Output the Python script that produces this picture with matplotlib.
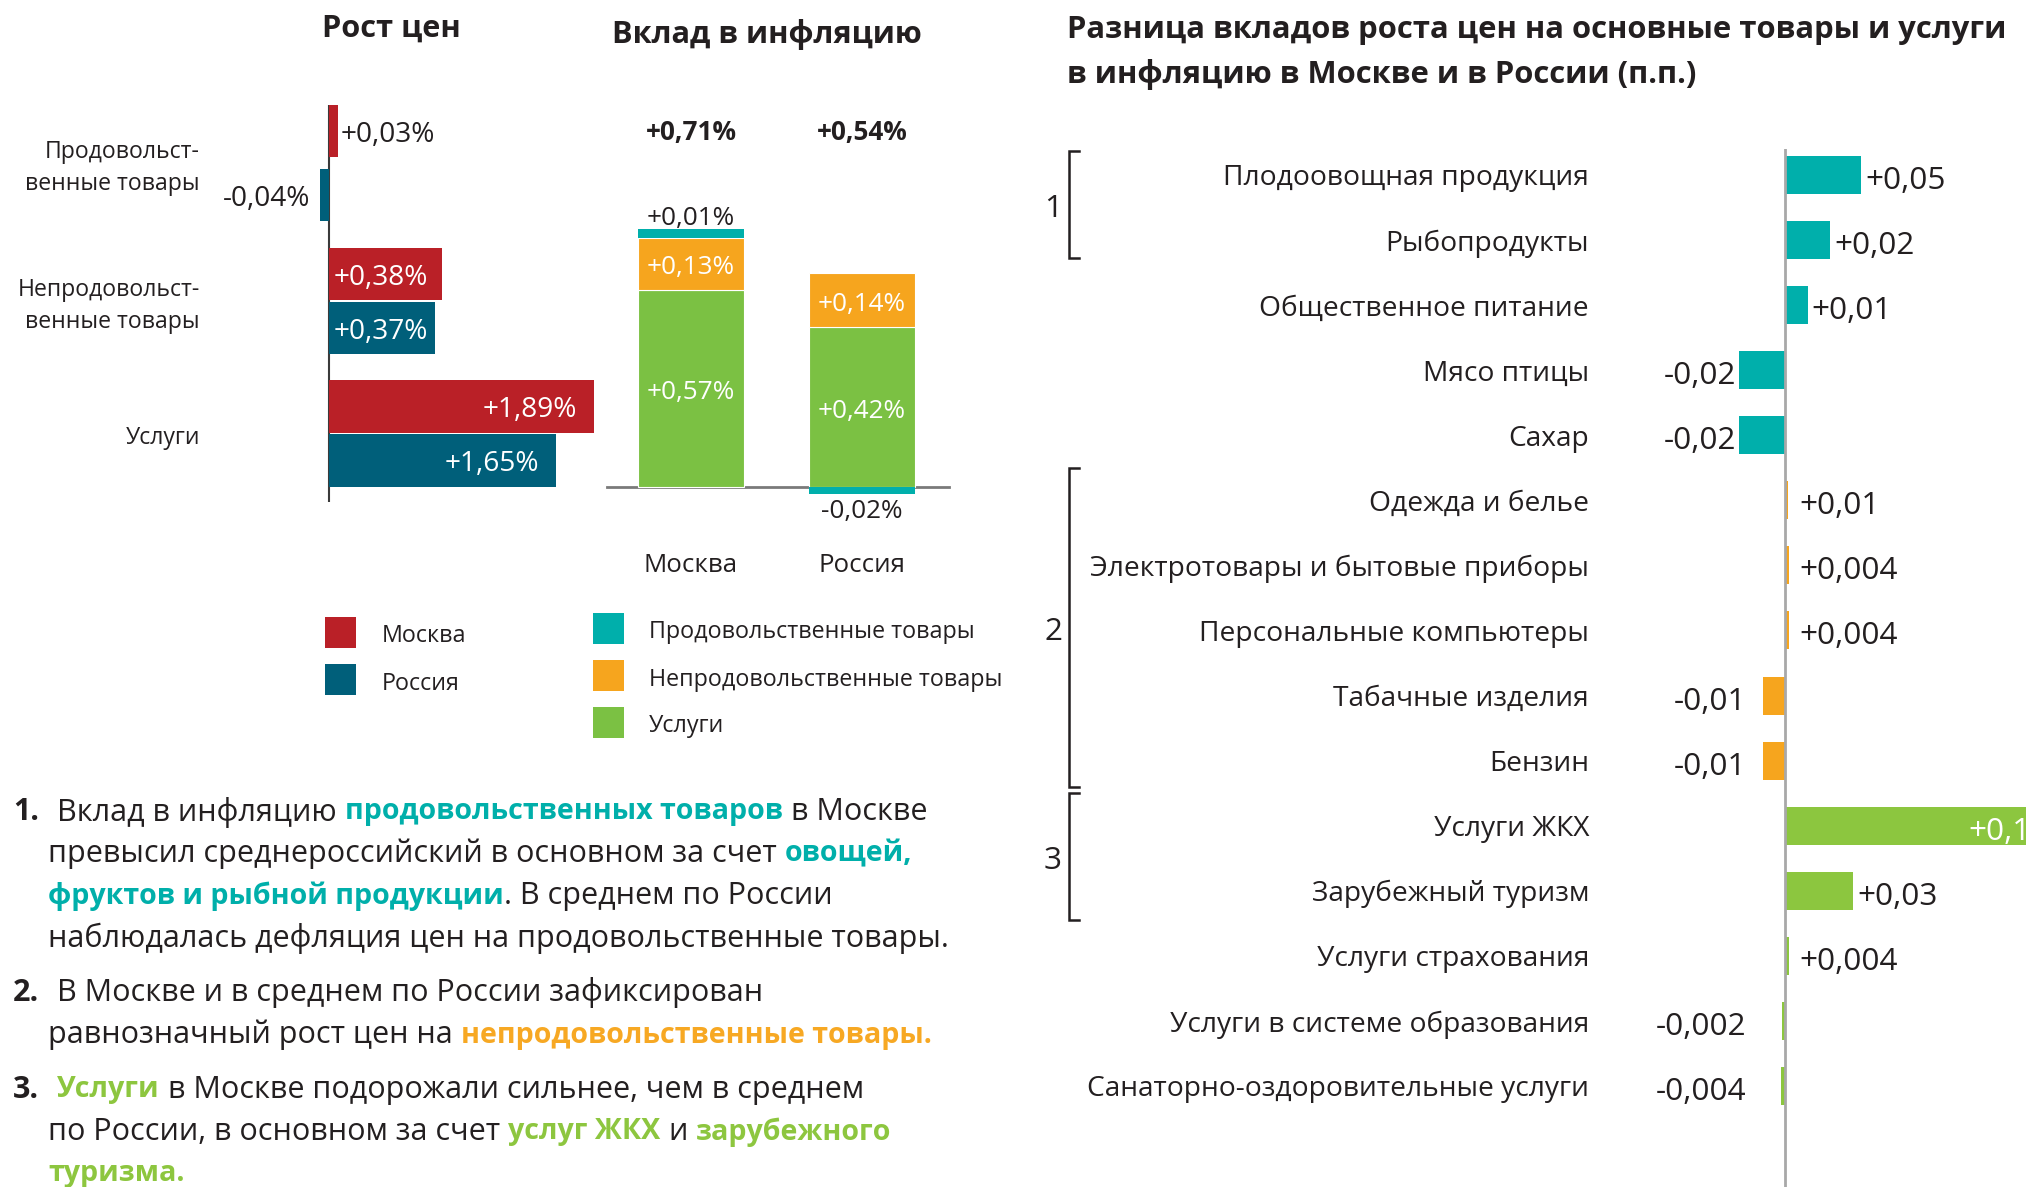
import re
import matplotlib
matplotlib.use('Agg')
import matplotlib.pyplot as plt
from matplotlib.patches import Rectangle
from matplotlib.transforms import ScaledTranslation

W, H, DPI = 2026, 1187, 100
plt.rcParams['font.family'] = ['Open Sans', 'DejaVu Sans']
DARK = '#231F20'
plt.rcParams['text.color'] = DARK

# ---------------- data ----------------
growth_categories = ['Продовольст-\nвенные товары', 'Непродовольст-\nвенные товары', 'Услуги']
growth_moscow = [0.064, 0.81, 1.89]          # bar lengths as drawn in the picture
growth_russia = [-0.064, 0.76, 1.62]
growth_moscow_labels = ['+0,03%', '+0,38%', '+1,89%']
growth_russia_labels = ['-0,04%', '+0,37%', '+1,65%']

contrib_regions = ['Москва', 'Россия']
contrib_services = [0.57, 0.462]
contrib_nonfood = [0.15, 0.156]
contrib_food = [0.026, -0.02]
contrib_services_labels = ['+0,57%', '+0,42%']
contrib_nonfood_labels = ['+0,13%', '+0,14%']
contrib_food_labels = ['+0,01%', '-0,02%']
contrib_totals = ['+0,71%', '+0,54%']

diff_items = ['Плодоовощная продукция', 'Рыбопродукты', 'Общественное питание', 'Мясо птицы', 'Сахар',
              'Одежда и белье', 'Электротовары и бытовые приборы', 'Персональные компьютеры',
              'Табачные изделия', 'Бензин', 'Услуги ЖКХ', 'Зарубежный туризм', 'Услуги страхования',
              'Услуги в системе образования', 'Санаторно-оздоровительные услуги']
diff_values = [0.050, 0.0296, 0.015, -0.030, -0.030, 0.002, 0.0025, 0.0025, -0.0145, -0.0145,
               0.187, 0.045, 0.0027, -0.002, -0.0027]
diff_labels = ['+0,05', '+0,02', '+0,01', '-0,02', '-0,02', '+0,01', '+0,004', '+0,004', '-0,01', '-0,01',
               '+0,12', '+0,03', '+0,004', '-0,002', '-0,004']
diff_sector = [0, 0, 0, 0, 0, 1, 1, 1, 1, 1, 2, 2, 2, 2, 2]
bracket_rows = [(0, 1), (5, 9), (10, 11)]
bracket_names = ['1', '2', '3']

legend_regions = ['Москва', 'Россия']
legend_sectors = ['Продовольственные товары', 'Непродовольственные товары', 'Услуги']

notes = [
    ('1.', ['Вклад в инфляцию {t:продовольственных товаров} в Москве',
            'превысил среднероссийский в основном за счет {t:овощей,}',
            '{t:фруктов и рыбной продукции}. В среднем по России',
            'наблюдалась дефляция цен на продовольственные товары.']),
    ('2.', ['В Москве и в среднем по России зафиксирован',
            'равнозначный рост цен на {o:непродовольственные товары.}']),
    ('3.', ['{g:Услуги} в Москве подорожали сильнее, чем в среднем',
            'по России, в основном за счет {g:услуг ЖКХ} и {g:зарубежного}',
            '{g:туризма.}']),
]

# ---------------- style / layout ----------------
RED = '#BA2027'
BLUE = '#005F7A'
TEAL = '#00AFAB'
ORANGE = '#F6A51E'
GREEN = '#7BC143'
GREEN2 = '#8CC63F'
sector_colors = [TEAL, ORANGE, GREEN2]
note_colors = {'t': '#00AFAA', 'o': '#F7A823', 'g': '#8DC63F'}
TS = 4  # text baseline shift (px)

growth_center_px = [163, 301, 433.5]
growth_half_gap_px = [32, 27, 27]
bracket_pads = [(0.37, 0.28), (0.49, 0.41), (0.5, 0.45)]

fig = plt.figure(figsize=(W / DPI, H / DPI), dpi=DPI)
R = fig.canvas.get_renderer()


def add_axes_px(x0, y0, x1, y1):
    ax = fig.add_axes([x0 / W, 1 - y1 / H, (x1 - x0) / W, (y1 - y0) / H])
    ax.axis('off')
    return ax


def ftext(x, y, s, **kw):
    return fig.text(x / W, 1 - (y + TS) / H, s, **kw)


def atext(ax, x, y, s, tr=None, sh=TS, **kw):
    base = ax.transData if tr is None else tr
    return ax.text(x, y, s, transform=base + ScaledTranslation(0, -sh / DPI, fig.dpi_scale_trans), **kw)


def text_w(s, size, weight='normal'):
    t = fig.text(0, 0, s, fontsize=size, fontweight=weight)
    w = t.get_window_extent(renderer=R).width
    t.remove()
    return w


def fit_size(s, target, weight='normal', base=20.0):
    return base * target / text_w(s, base, weight)


def adv(s, size, weight='normal'):
    return text_w('x' + s + 'x', size, weight) - text_w('xx', size, weight)


def pdx(ax, xpx):
    return ax.transData.inverted().transform((xpx, 0))[0]


def pdy(ax, ypx):
    return ax.transData.inverted().transform((0, H - ypx))[1]


def dx(ax, npx):
    return pdx(ax, npx) - pdx(ax, 0)


# font sizes fitted to reference text widths
fs_title_left = fit_size('Вклад в инфляцию', 309, 'bold')
fs_title_right = fit_size('Разница вкладов роста цен на основные товары и услуги', 939, 'bold')
fs_cat_right = fit_size('Электротовары и бытовые приборы', 499)
fs_cat_left = fit_size('венные товары', 174)
fs_legend = fit_size('Непродовольственные товары', 353)
fs_note = fit_size('наблюдалась дефляция цен на продовольственные товары.', 899)
fs_note_bold = fs_note * 0.94
fs_val_left = fit_size('+0,03%', 94)
fs_val_stack = fit_size('+0,57%', 88)
fs_total = fit_size('+0,71%', 91, 'bold')
fs_region = fit_size('Москва', 94)
fs_val_right = fit_size('+0,004', 98)

# ---------------- chart 1: price growth ----------------
G_ZERO, G_SCALE, G_FIRST, G_PITCH = 329, 140.0, 163, 135.0
ax1 = add_axes_px(200, 90, 700, 510)
ax1.set_xlim((200 - G_ZERO) / G_SCALE, (700 - G_ZERO) / G_SCALE)
ax1.set_ylim((510 - G_FIRST) / G_PITCH, (90 - G_FIRST) / G_PITCH)
cat_y = [(c - G_FIRST) / G_PITCH for c in growth_center_px]
half = [g / G_PITCH for g in growth_half_gap_px]
y_mos = [c - h for c, h in zip(cat_y, half)]
y_rus = [c + h for c, h in zip(cat_y, half)]
ax1.barh(y_mos, growth_moscow, height=0.39, color=RED, zorder=2)
ax1.barh(y_rus, growth_russia, height=0.39, color=BLUE, zorder=2)
ax1.vlines(0, pdy(ax1, 105), pdy(ax1, 502), color='#3a3a3a', lw=1.5, zorder=1)
for vals, labs, ys in [(growth_moscow, growth_moscow_labels, y_mos), (growth_russia, growth_russia_labels, y_rus)]:
    for v, lab, y in zip(vals, labs, ys):
        if v < 0:
            atext(ax1, v + dx(ax1, -10), y, lab, ha='right', va='center', fontsize=fs_val_left, color=DARK)
        elif v < 0.3:
            atext(ax1, v + dx(ax1, 3), y, lab, ha='left', va='center', fontsize=fs_val_left, color=DARK)
        elif v < 1.0:
            atext(ax1, dx(ax1, 5), y, lab, ha='left', va='center', fontsize=fs_val_left, color='white')
        else:
            atext(ax1, v - dx(ax1, 17), y, lab, ha='right', va='center', fontsize=fs_val_left, color='white')
for y, cat in zip(cat_y, growth_categories):
    atext(ax1, 0, y, cat, tr=ax1.get_yaxis_transform(), sh=TS + 1, ha='right', va='center',
          multialignment='right', fontsize=fs_cat_left, linespacing=1.42, color=DARK)

# ---------------- chart 2: contribution to inflation ----------------
S_BASE, S_SCALE, S_FIRST, S_PITCH = 487, 346.0, 691, 171.0
ax2 = add_axes_px(600, 90, 960, 600)
ax2.set_xlim((600 - S_FIRST) / S_PITCH, (960 - S_FIRST) / S_PITCH)
ax2.set_ylim((S_BASE - 600) / S_SCALE, (S_BASE - 90) / S_SCALE)
xr = list(range(len(contrib_regions)))
bw = 0.62
ax2.bar(xr, contrib_services, width=bw, color=GREEN, edgecolor='white', linewidth=0.8, zorder=2)
ax2.bar(xr, contrib_nonfood, bottom=contrib_services, width=bw, color=ORANGE, edgecolor='white',
        linewidth=0.8, zorder=2)
food_bottom = [s + n if f > 0 else 0 for s, n, f in zip(contrib_services, contrib_nonfood, contrib_food)]
ax2.bar(xr, contrib_food, bottom=food_bottom, width=bw, color=TEAL, zorder=2)
ax2.plot([pdx(ax2, 607), pdx(ax2, 949)], [0, 0], color='#7a7a7a', lw=2, zorder=1)
gap = 14 / S_SCALE
for i in xr:
    s, n, f = contrib_services[i], contrib_nonfood[i], contrib_food[i]
    atext(ax2, i, s / 2, contrib_services_labels[i], ha='center', va='center', color='white', fontsize=fs_val_stack)
    atext(ax2, i, s + n / 2, contrib_nonfood_labels[i], ha='center', va='center', color='white', fontsize=fs_val_stack)
    if f > 0:
        atext(ax2, i, s + n + f + gap, contrib_food_labels[i], ha='center', va='center', color=DARK,
              fontsize=fs_val_stack)
    else:
        atext(ax2, i, f - gap, contrib_food_labels[i], ha='center', va='center', color=DARK, fontsize=fs_val_stack)
    atext(ax2, i, pdy(ax2, 129), contrib_totals[i], ha='center', va='center', fontweight='bold', fontsize=fs_total)
    atext(ax2, i, pdy(ax2, 562), contrib_regions[i], ha='center', va='center', fontsize=fs_region)

# ---------------- chart 3: differences ----------------
D_ZERO, D_SCALE, D_FIRST, D_PITCH = 1785, 1520.0, 175, 65.07
ax3 = add_axes_px(1040, 149, W, H)
ax3.set_xlim((1040 - D_ZERO) / D_SCALE, (W - D_ZERO) / D_SCALE)
ax3.set_ylim((H - D_FIRST) / D_PITCH, (149 - D_FIRST) / D_PITCH)
rows = list(range(len(diff_items)))
ax3.barh(rows, diff_values, height=0.584, color=[sector_colors[s] for s in diff_sector], zorder=2)
ax3.axvline(0, color='#A8A8A8', lw=2, zorder=3)
for i, (v, lab, name) in enumerate(zip(diff_values, diff_labels, diff_items)):
    atext(ax3, pdx(ax3, 1589), i, name, sh=TS - 0.5, ha='right', va='center', fontsize=fs_cat_right, color=DARK)
    if v > 0.1:
        atext(ax3, v - dx(ax3, 20), i, lab, sh=TS + 2, ha='right', va='center', fontsize=fs_val_right,
              color='white')
    elif v >= 0:
        atext(ax3, max(v, dx(ax3, 10)) + dx(ax3, 4), i, lab, sh=TS + 2, ha='left', va='center',
              fontsize=fs_val_right, color=DARK)
    else:
        atext(ax3, min(v, dx(ax3, -36)) - dx(ax3, 3), i, lab, sh=TS + 2, ha='right', va='center',
              fontsize=fs_val_right, color=DARK)
bx = pdx(ax3, 1069)
tick = dx(ax3, 10)
for (a, b), (pt, pb), name in zip(bracket_rows, bracket_pads, bracket_names):
    top, bot = a - pt, b + pb
    ax3.plot([bx + tick, bx, bx, bx + tick], [top, top, bot, bot], color=DARK, lw=1.8, clip_on=False,
             solid_joinstyle='miter')
    atext(ax3, pdx(ax3, 1053), (top + bot) / 2, name, ha='center', va='center', fontsize=fs_val_right,
          color=DARK)

# ---------------- titles ----------------
ftext(391, 25, 'Рост цен', ha='center', va='center', fontweight='bold', fontsize=fs_title_left)
ftext(767, 30, 'Вклад в инфляцию', ha='center', va='center', fontweight='bold', fontsize=fs_title_left)
ftext(1067, 26, 'Разница вкладов роста цен на основные товары и услуги', ha='left', va='center',
      fontweight='bold', fontsize=fs_title_right)
ftext(1067, 71, 'в инфляцию в Москве и в России (п.п.)', ha='left', va='center',
      fontweight='bold', fontsize=fs_title_right)


# ---------------- legends ----------------
def square(x, y, color, size=31):
    fig.add_artist(Rectangle((x / W, 1 - (y + size) / H), size / W, size / H,
                             transform=fig.transFigure, facecolor=color, edgecolor='none'))


for k, (name, col) in enumerate(zip(legend_regions, [RED, BLUE])):
    y0 = 617 + 47 * k
    square(325, y0, col)
    ftext(382, y0 + 15.5, name, ha='left', va='center', fontsize=fs_legend)
for k, (name, col) in enumerate(zip(legend_sectors, [TEAL, ORANGE, GREEN])):
    y0 = 613 + 47 * k
    square(593, y0, col)
    ftext(649, y0 + 15.5, name, ha='left', va='center', fontsize=fs_legend)

# ---------------- notes ----------------
y = 808
for num, lines in notes:
    ftext(13, y, num, ha='left', va='center', fontweight='bold', fontsize=fs_note)
    for li, line in enumerate(lines):
        x = 57 if li == 0 else 48
        for part in re.split(r'(\{[tog]:[^}]*\})', line):
            if not part:
                continue
            m = re.match(r'\{([tog]):([^}]*)\}', part)
            if m:
                s, col, wt, fs = m.group(2), note_colors[m.group(1)], 'bold', fs_note_bold
            else:
                s, col, wt, fs = part, DARK, 'normal', fs_note
            lead = len(s) - len(s.lstrip(' '))
            trail = len(s) - len(s.rstrip(' '))
            core = s.strip(' ')
            if lead:
                x += adv(' ' * lead, fs, wt)
            if core:
                ftext(x, y, core, ha='left', va='center', fontsize=fs, fontweight=wt, color=col)
                x += adv(core, fs, wt)
            if trail:
                x += adv(' ' * trail, fs, wt)
        y += 42
    y += 13

fig.savefig('out.png', dpi=DPI)
